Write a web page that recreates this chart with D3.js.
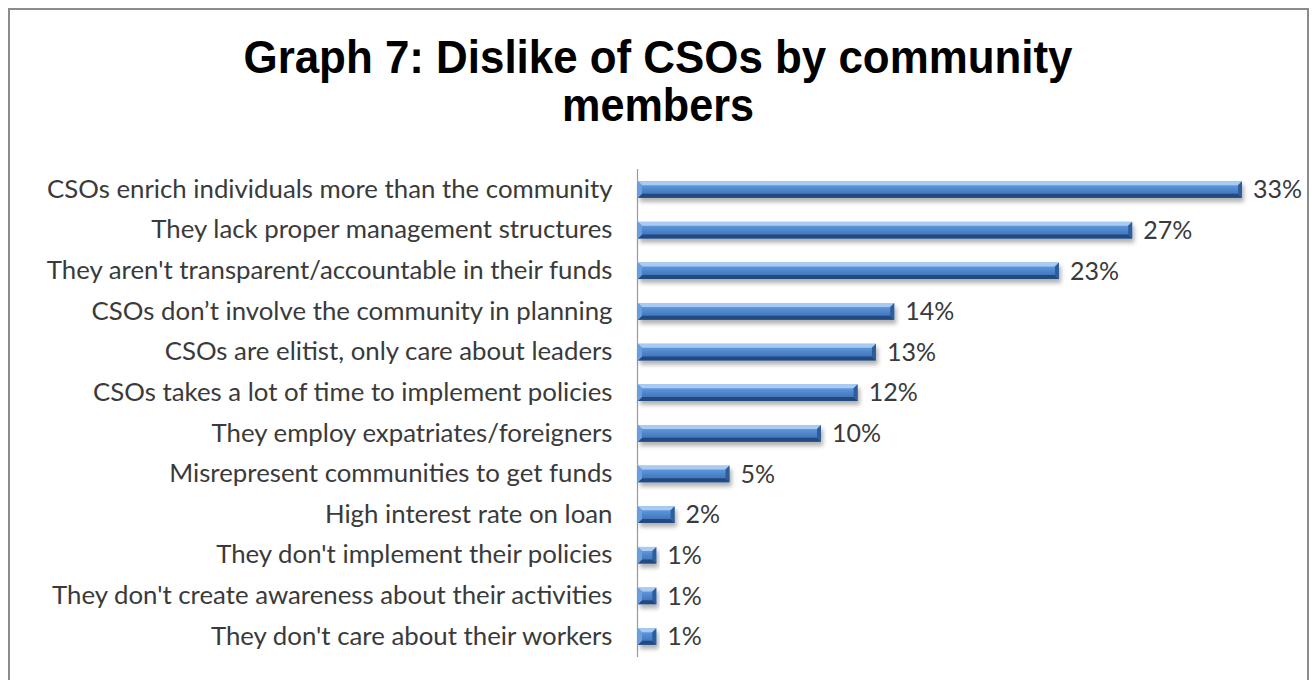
<!DOCTYPE html>
<html lang="en">
<head>
  <meta charset="utf-8">
  <title>Graph 7</title>
  <script src="https://d3js.org/d3.v7.min.js"></script>
  <style type="text/css">
    body { margin: 0; background: #fff; }
    svg { display: block; }
  </style>
</head>
<body>
  <div id="chart"></div>
  <script type="text/javascript">
    const w = 1316;
    const h = 680;

    // data
    const reasons = [
      "CSOs enrich individuals more than the community",
      "They lack proper management structures",
      "They aren't transparent/accountable in their funds",
      "CSOs don\u2019t involve the community in planning",
      "CSOs are elitist, only care about leaders",
      "CSOs takes a lot of time to implement policies",
      "They employ expatriates/foreigners",
      "Misrepresent communities to get funds",
      "High interest rate on loan",
      "They don't implement their policies",
      "They don't create awareness about their activities",
      "They don't care about their workers"
    ];
    const percents = [33, 27, 23, 14, 13, 12, 10, 5, 2, 1, 1, 1];
    const titleLines = ["Graph 7: Dislike of CSOs by community", "members"];

    const data = reasons.map((r, i) => ({ label: r, value: percents[i] }));

    const svg = d3.select("#chart")
      .append("svg")
      .attr("width", w)
      .attr("height", h);

    // outer frame
    svg.append("rect")
      .attr("x", 9).attr("y", 9)
      .attr("width", 1299).attr("height", 700)
      .attr("fill", "#fff")
      .attr("stroke", "#8c8c8c")
      .attr("stroke-width", 2);

    const defs = svg.append("defs");
    const grad = defs.append("linearGradient")
      .attr("id", "barGrad")
      .attr("x1", 0).attr("y1", 0).attr("x2", 0).attr("y2", 1);
    [["0%", "#7aaae6"], ["30%", "#5a93d8"], ["60%", "#4a80c6"], ["100%", "#3a6aab"]]
      .forEach(s => grad.append("stop").attr("offset", s[0]).attr("stop-color", s[1]));

    const shadow = defs.append("filter")
      .attr("id", "shadow")
      .attr("x", "-10%").attr("y", "-50%")
      .attr("width", "130%").attr("height", "250%");
    shadow.append("feDropShadow")
      .attr("dx", 2).attr("dy", 4)
      .attr("stdDeviation", 2)
      .attr("flood-color", "#000")
      .attr("flood-opacity", 0.3);

    // title (slightly condensed like the original)
    const titleWidths = [829, 192];
    svg.append("g")
      .selectAll("text")
      .data(titleLines)
      .enter().append("text")
      .attr("x", 658)
      .attr("y", (d, i) => 73 + i * 48)
      .attr("text-anchor", "middle")
      .attr("textLength", (d, i) => titleWidths[i])
      .attr("lengthAdjust", "spacingAndGlyphs")
      .style("font-family", "'Liberation Sans', Arial, sans-serif")
      .style("font-weight", "bold")
      .style("font-size", "46px")
      .style("fill", "#000")
      .text(d => d);

    const xScale = d3.scaleLinear()
      .domain([0, 33])
      .range([638, 1242]);

    const yScale = d3.scaleBand()
      .domain(reasons)
      .range([169, 657])
      .paddingInner(0.59)
      .paddingOuter(0.3);

    // category labels
    const leftAxis = d3.axisLeft(yScale).tickSize(0).tickPadding(25);
    const axisG = svg.append("g")
      .attr("transform", "translate(637.5,0)")
      .call(leftAxis);
    axisG.select(".domain").remove();
    axisG.selectAll("text")
      .style("font-family", "Lato, 'Open Sans', sans-serif")
      .style("font-size", "25.8px")
      .style("fill", "#3a3a3a");

    // vertical axis line
    svg.append("line")
      .attr("x1", 637.5).attr("x2", 637.5)
      .attr("y1", 169).attr("y2", 657)
      .attr("stroke", "#9a9a9a")
      .attr("stroke-width", 1.2);

    const bev = 4;
    const bars = svg.selectAll("g.bar")
      .data(data)
      .enter().append("g")
      .attr("class", "bar")
      .attr("filter", "url(#shadow)");

    bars.append("rect")
      .attr("x", xScale(0))
      .attr("y", d => yScale(d.label))
      .attr("width", d => xScale(d.value) - xScale(0))
      .attr("height", yScale.bandwidth())
      .attr("fill", "url(#barGrad)");

    const poly = (d, side) => {
      const x0 = xScale(0), x1 = xScale(d.value);
      const y0 = yScale(d.label), y1 = y0 + yScale.bandwidth();
      let pts;
      if (side === "top") pts = [[x0, y0], [x1, y0], [x1 - bev, y0 + bev], [x0 + bev, y0 + bev]];
      if (side === "bottom") pts = [[x0, y1], [x1, y1], [x1 - bev, y1 - bev], [x0 + bev, y1 - bev]];
      if (side === "right") pts = [[x1, y0], [x1, y1], [x1 - bev, y1 - bev], [x1 - bev, y0 + bev]];
      if (side === "left") pts = [[x0, y0], [x0, y1], [x0 + bev, y1 - bev], [x0 + bev, y0 + bev]];
      return pts.map(p => p.join(",")).join(" ");
    };
    const facets = [["top", "#a9cbf2"], ["bottom", "#234a80"], ["right", "#2f5d9a"], ["left", "#6a9fdf"]];
    facets.forEach(f => {
      bars.append("polygon")
        .attr("points", d => poly(d, f[0]))
        .attr("fill", f[1]);
    });

    // value labels
    svg.selectAll("text.val")
      .data(data)
      .enter().append("text")
      .attr("class", "val")
      .attr("x", d => xScale(d.value) + 11)
      .attr("y", d => yScale(d.label) + yScale.bandwidth() / 2)
      .attr("dy", "0.35em")
      .style("font-family", "Lato, 'Open Sans', sans-serif")
      .style("font-size", "25px")
      .style("fill", "#3a3a3a")
      .text(d => d.value + "%");
  </script>
</body>
</html>
